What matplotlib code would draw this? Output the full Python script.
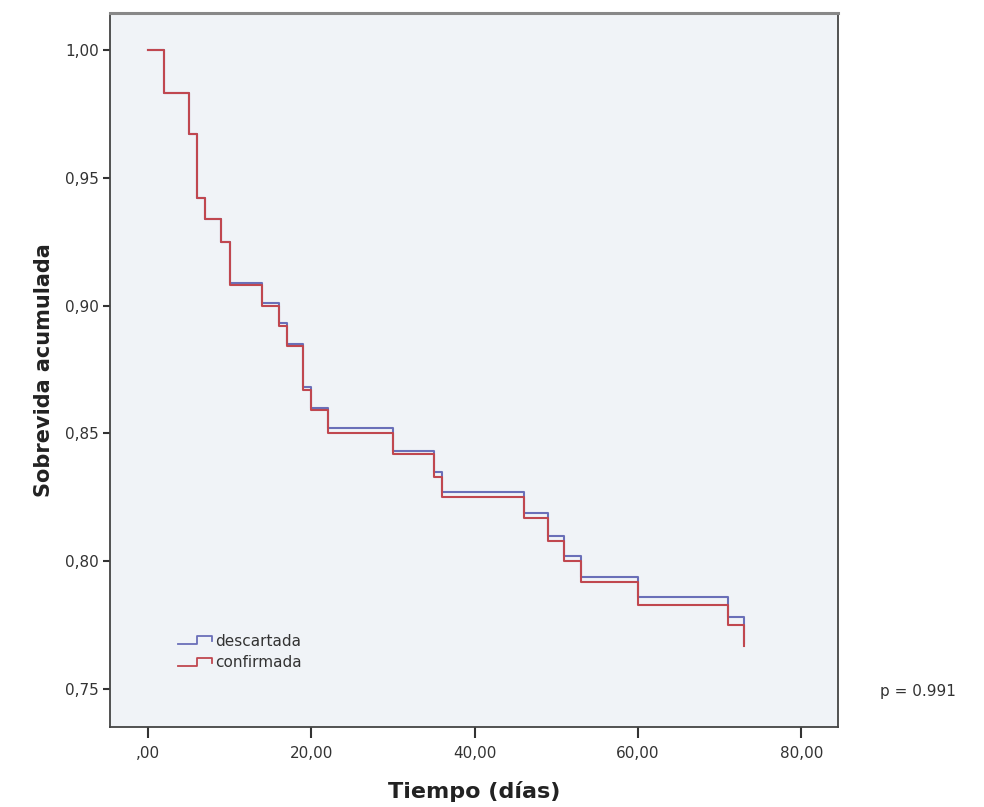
import matplotlib
matplotlib.use("Agg")
import matplotlib.pyplot as plt
from matplotlib.legend_handler import HandlerBase
from matplotlib.lines import Line2D
import numpy as np

# Kaplan-Meier steps (time in days, cumulative survival)
tiempo = [0, 2, 5, 6, 7, 9, 10, 14, 16, 17, 19, 20, 22, 30, 35, 36, 46, 49, 51, 53, 60, 71, 73]
descartada = [1.000, 0.983, 0.967, 0.942, 0.934, 0.925, 0.909, 0.901, 0.893, 0.885, 0.868, 0.860,
              0.852, 0.843, 0.835, 0.827, 0.819, 0.810, 0.802, 0.794, 0.786, 0.778, 0.768]
confirmada = [1.000, 0.983, 0.967, 0.942, 0.934, 0.925, 0.908, 0.900, 0.892, 0.884, 0.867, 0.859,
              0.850, 0.842, 0.833, 0.825, 0.817, 0.808, 0.800, 0.792, 0.783, 0.775, 0.767]

xticks = [0, 20, 40, 60, 80]
xticklabels = [",00", "20,00", "40,00", "60,00", "80,00"]
yticks = [0.75, 0.80, 0.85, 0.90, 0.95, 1.00]
yticklabels = ["0,75", "0,80", "0,85", "0,90", "0,95", "1,00"]

col_desc = "#6a6fb8"
col_conf = "#c0474f"


class StepHandler(HandlerBase):
    # legend glyph shaped like a small survival step
    def create_artists(self, legend, orig_handle, xdescent, ydescent, width, height, fontsize, trans):
        xs = np.array([0, 0.55, 0.55, 1.0, 1.0]) * width - xdescent
        ys = np.array([0.15, 0.15, 0.85, 0.85, 0.45]) * height - ydescent
        ln = Line2D(xs, ys, color=orig_handle.get_color(), lw=1.3)
        ln.set_transform(trans)
        return [ln]


fig = plt.figure(figsize=(9.84, 8.07), dpi=100)
ax = fig.add_axes([0.1118, 0.0991, 0.7398, 0.8848])
ax.set_facecolor("#f0f3f7")

l1, = ax.step(tiempo, descartada, where="post", color=col_desc, lw=1.5, label="descartada")
l2, = ax.step(tiempo, confirmada, where="post", color=col_conf, lw=1.5, label="confirmada")

ax.set_xlim(-4.65, 84.5)
ax.set_ylim(0.7351, 1.0145)
ax.set_xticks(xticks)
ax.set_xticklabels(xticklabels)
ax.set_yticks(yticks)
ax.set_yticklabels(yticklabels)
ax.tick_params(axis="x", direction="out", length=8, width=1.5, colors="#333333", labelsize=11, pad=6)
ax.tick_params(axis="y", direction="out", length=5, width=1.5, colors="#333333", labelsize=11, pad=3)

for side in ["left", "bottom", "right"]:
    ax.spines[side].set_color("#444444")
    ax.spines[side].set_linewidth(1.3)
ax.spines["top"].set_color("#888888")
ax.spines["top"].set_linewidth(2.2)

ax.set_xlabel("Tiempo (días)", fontsize=16, fontweight="bold", color="#222222", labelpad=14)
ax.set_ylabel("Sobrevida acumulada", fontsize=15, fontweight="bold", color="#222222", labelpad=8)

leg = ax.legend(handles=[l1, l2], handler_map={Line2D: StepHandler()},
                loc="lower left", bbox_to_anchor=(0.075, 0.06), frameon=False,
                fontsize=11, handlelength=2.2, handletextpad=0.2, labelspacing=0.45)
for t in leg.get_texts():
    t.set_color("#333333")

fig.text(0.894, 1 - 696 / 807, "p = 0.991", fontsize=11, color="#333333")

fig.savefig("out.png", dpi=100)
